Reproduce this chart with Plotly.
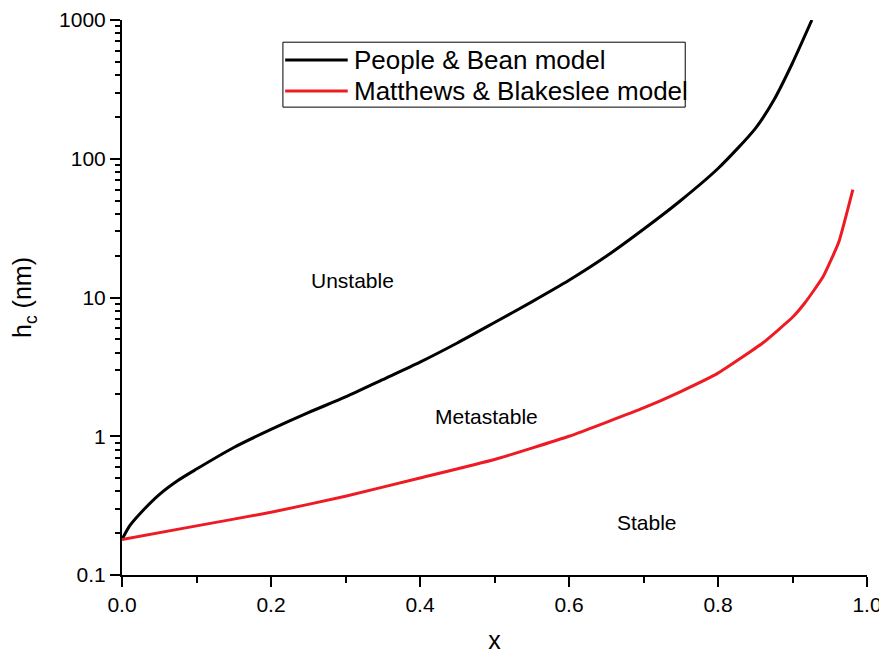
import math
import plotly.graph_objects as go

# People & Bean model
pb_x = [0.0, 0.01, 0.025, 0.05, 0.075, 0.1, 0.15, 0.2, 0.25, 0.3, 0.35, 0.4, 0.45, 0.5,
        0.55, 0.6, 0.65, 0.7, 0.75, 0.8, 0.85, 0.875, 0.9, 0.926]
pb_y = [0.18, 0.225, 0.28, 0.38, 0.48, 0.58, 0.83, 1.12, 1.48, 1.92, 2.56, 3.42, 4.7, 6.6,
        9.3, 13.3, 19.8, 31.0, 50.0, 85.0, 165.0, 265.0, 490.0, 1000.0]

# Matthews & Blakeslee model
mb_x = [0.0, 0.1, 0.2, 0.3, 0.4, 0.5, 0.6, 0.7, 0.75, 0.8, 0.86, 0.9, 0.917,
        0.941, 0.962, 0.981]
mb_y = [0.18, 0.226, 0.283, 0.37, 0.50, 0.68, 1.0, 1.6, 2.1, 2.85, 4.7, 7.2, 9.2,
        14.1, 25.0, 60.0]

series_names = ["People & Bean model", "Matthews & Blakeslee model"]
series_colors = ["black", "#ed1c24"]

region_labels = ["Unstable", "Metastable", "Stable"]
region_x = [0.309, 0.489, 0.705]
region_y = [13.3, 1.39, 0.24]

y_major = [0.1, 1, 10, 100, 1000]
y_minor = [m * d for d in [0.1, 1, 10, 100] for m in range(2, 10)]

FONT = "Liberation Sans, Arial, sans-serif"

fig = go.Figure()
fig.add_trace(go.Scatter(x=pb_x, y=pb_y, mode="lines", name=series_names[0],
                         line=dict(color=series_colors[0], width=3, shape="spline", smoothing=0.7),
                         yaxis="y"))
# second series drawn against an overlaid identical log axis that carries the minor ticks
fig.add_trace(go.Scatter(x=mb_x, y=mb_y, mode="lines", name=series_names[1],
                         line=dict(color=series_colors[1], width=3, shape="spline", smoothing=0.4),
                         yaxis="y2"))

for t, x, y in zip(region_labels, region_x, region_y):
    fig.add_annotation(x=x, y=math.log10(y), yref="y", xref="x", text=t, showarrow=False,
                       font=dict(size=21, color="black", family=FONT))

# legend box (drawn manually to match the sample-line length of the original)
fig.add_shape(type="rect", xref="paper", yref="paper", x0=0.216, x1=0.756, y0=0.843, y1=0.960,
              line=dict(color="black", width=1), fillcolor="white", layer="above")
leg_y = [0.928, 0.872]
for name, col, ly in zip(series_names, series_colors, leg_y):
    fig.add_shape(type="line", xref="paper", yref="paper", x0=0.219, x1=0.303, y0=ly, y1=ly,
                  line=dict(color=col, width=3), layer="above")
    fig.add_annotation(xref="paper", yref="paper", x=0.309, y=ly, xanchor="left", yanchor="middle",
                       text=name, showarrow=False, font=dict(size=26, color="black", family=FONT))

# page body has an 8px margin: shrink the figure so the plot area lands where it should
fig.update_layout(
    width=879, height=649,
    margin=dict(l=114, r=20, t=12, b=82, autoexpand=False),
    paper_bgcolor="white", plot_bgcolor="white",
    font=dict(family=FONT, color="black"),
    showlegend=False,
    xaxis=dict(range=[0, 1], showline=True, linecolor="black", linewidth=2,
               showgrid=False, zeroline=False, ticks="outside", ticklen=10,
               tickwidth=2, tickcolor="black", dtick=0.2, tick0=0, tickformat=".1f",
               tickfont=dict(size=21, family=FONT), automargin=False,
               minor=dict(ticks="outside", ticklen=6, tickwidth=2, tickcolor="black", dtick=0.1),
               title=dict(text="x", font=dict(size=25, family=FONT), standoff=16)),
    yaxis=dict(type="log", range=[-1, 3], showline=True, linecolor="black", linewidth=2,
               showgrid=False, zeroline=False, ticks="outside", ticklen=10,
               tickwidth=2, tickcolor="black", tickmode="array",
               tickvals=y_major, ticktext=[("%g" % v) for v in y_major],
               tickfont=dict(size=21, family=FONT), automargin=False,
               title=dict(text="h<sub>c</sub> (nm)", font=dict(size=25, family=FONT), standoff=20)),
    yaxis2=dict(type="log", range=[-1, 3], overlaying="y", side="left", anchor="x",
                showline=False, showgrid=False, zeroline=False, ticks="outside", ticklen=6,
                tickwidth=2, tickcolor="black", tickmode="array", tickvals=y_minor,
                showticklabels=False, automargin=False),
)

fig.write_html("out.html")
